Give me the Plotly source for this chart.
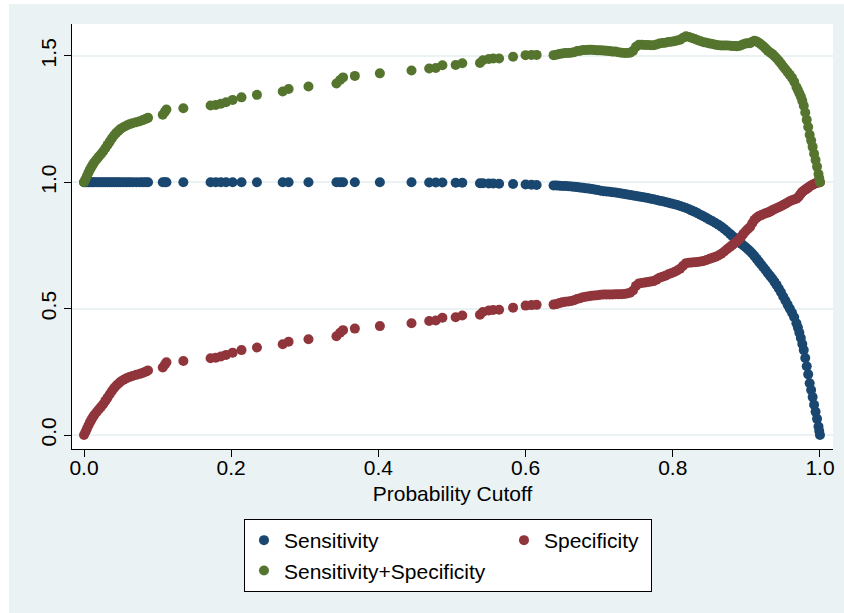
import plotly.graph_objects as go

cutoff = [
    0.000, 0.002, 0.004, 0.006, 0.008, 0.010, 0.012, 0.014, 0.017, 0.020,
    0.023, 0.026, 0.029, 0.032, 0.035, 0.038, 0.041, 0.044, 0.047, 0.050,
    0.054, 0.058, 0.062, 0.066, 0.071, 0.076, 0.080, 0.084, 0.087, 0.107,
    0.110, 0.112, 0.135, 0.172, 0.179, 0.186, 0.193, 0.202, 0.214, 0.235,
    0.270, 0.278, 0.305, 0.343, 0.348, 0.352, 0.368, 0.402, 0.445, 0.469,
    0.478, 0.487, 0.505, 0.514, 0.538, 0.542, 0.550, 0.556, 0.564, 0.583,
    0.600, 0.608, 0.615, 0.638,
    0.642, 0.646, 0.650, 0.654, 0.658, 0.662, 0.666, 0.670, 0.674, 0.678,
    0.682, 0.686, 0.690, 0.694, 0.698, 0.702, 0.706, 0.710, 0.714, 0.718,
    0.722, 0.726, 0.730, 0.734, 0.738, 0.742, 0.746, 0.750, 0.754, 0.758,
    0.762, 0.766, 0.770, 0.774, 0.778, 0.782, 0.786, 0.790, 0.794, 0.798,
    0.802, 0.806, 0.810, 0.814, 0.818, 0.822, 0.826, 0.830, 0.834, 0.838,
    0.842, 0.846, 0.850, 0.854, 0.858, 0.862, 0.866, 0.870, 0.874, 0.878,
    0.881, 0.884, 0.887, 0.890, 0.893, 0.896, 0.899, 0.902, 0.905, 0.908,
    0.911, 0.914, 0.917, 0.920, 0.923, 0.926, 0.929, 0.932, 0.935, 0.938,
    0.941, 0.944, 0.947, 0.950, 0.953, 0.956, 0.959, 0.962, 0.965, 0.968,
    0.970, 0.972, 0.974, 0.976, 0.978, 0.980, 0.982, 0.984, 0.986, 0.988,
    0.990, 0.992, 0.994, 0.996, 0.998, 0.999, 1.000,
]

sensitivity = [
    1.000, 1.000, 1.000, 1.000, 1.000, 1.000, 1.000, 1.000, 1.000, 1.000,
    1.000, 1.000, 1.000, 1.000, 1.000, 1.000, 1.000, 1.000, 1.000, 1.000,
    1.000, 1.000, 1.000, 1.000, 1.000, 1.000, 1.000, 1.000, 1.000, 1.000,
    1.000, 1.000, 1.000, 1.000, 1.000, 1.000, 1.000, 1.000, 1.000, 1.000,
    1.000, 1.000, 1.000, 1.000, 1.000, 1.000, 1.000, 1.000, 1.000, 0.999,
    0.999, 0.999, 0.998, 0.998, 0.996, 0.996, 0.995, 0.995, 0.994, 0.993,
    0.991, 0.990, 0.989, 0.987,
    0.987, 0.986, 0.985, 0.985, 0.984, 0.983, 0.982, 0.981, 0.979, 0.978,
    0.976, 0.975, 0.973, 0.971, 0.969, 0.967, 0.965, 0.964, 0.963, 0.961,
    0.960, 0.958, 0.956, 0.954, 0.952, 0.950, 0.948, 0.946, 0.944, 0.942,
    0.940, 0.938, 0.935, 0.933, 0.930, 0.927, 0.925, 0.922, 0.919, 0.916,
    0.913, 0.910, 0.906, 0.902, 0.898, 0.893, 0.888, 0.883, 0.877, 0.871,
    0.865, 0.859, 0.852, 0.846, 0.839, 0.832, 0.824, 0.815, 0.805, 0.795,
    0.787, 0.780, 0.772, 0.765, 0.757, 0.750, 0.743, 0.735, 0.727, 0.718,
    0.708, 0.697, 0.686, 0.675, 0.664, 0.653, 0.641, 0.630, 0.619, 0.607,
    0.594, 0.580, 0.565, 0.548, 0.532, 0.516, 0.500, 0.484, 0.466, 0.442,
    0.425, 0.405, 0.384, 0.360, 0.336, 0.305, 0.272, 0.240, 0.205, 0.178,
    0.150, 0.120, 0.092, 0.064, 0.034, 0.016, 0.000,
]

specificity = [
    0.000, 0.012, 0.025, 0.038, 0.050, 0.060, 0.070, 0.079, 0.090, 0.101,
    0.111, 0.122, 0.135, 0.148, 0.161, 0.174, 0.186, 0.196, 0.204, 0.212,
    0.219, 0.225, 0.230, 0.234, 0.238, 0.242, 0.246, 0.251, 0.255, 0.267,
    0.279, 0.288, 0.293, 0.304, 0.306, 0.311, 0.317, 0.326, 0.336, 0.346,
    0.359, 0.369, 0.379, 0.391, 0.405, 0.415, 0.421, 0.431, 0.442, 0.451,
    0.453, 0.464, 0.466, 0.473, 0.476, 0.487, 0.493, 0.495, 0.496, 0.504,
    0.512, 0.514, 0.515, 0.516,
    0.518, 0.522, 0.525, 0.527, 0.528, 0.530, 0.533, 0.538, 0.541, 0.545,
    0.547, 0.549, 0.551, 0.552, 0.553, 0.555, 0.556, 0.556, 0.556, 0.556,
    0.557, 0.557, 0.557, 0.558, 0.560, 0.563, 0.572, 0.590, 0.600, 0.602,
    0.603, 0.605, 0.607, 0.609, 0.615, 0.622, 0.626, 0.630, 0.636, 0.640,
    0.645, 0.651, 0.658, 0.670, 0.680, 0.682, 0.683, 0.684, 0.685, 0.687,
    0.689, 0.693, 0.697, 0.701, 0.705, 0.710, 0.717, 0.726, 0.736, 0.745,
    0.752, 0.759, 0.766, 0.774, 0.785, 0.796, 0.806, 0.815, 0.823, 0.838,
    0.852, 0.860, 0.866, 0.870, 0.874, 0.877, 0.880, 0.884, 0.889, 0.893,
    0.897, 0.901, 0.905, 0.910, 0.915, 0.920, 0.925, 0.929, 0.932, 0.935,
    0.940, 0.947, 0.955, 0.962, 0.967, 0.971, 0.975, 0.979, 0.983, 0.987,
    0.990, 0.993, 0.996, 0.998, 0.999, 1.000, 1.000,
]

sens_plus_spec = [s + p for s, p in zip(sensitivity, specificity)]

x_ticks = [0.0, 0.2, 0.4, 0.6, 0.8, 1.0]
y_ticks = [0.0, 0.5, 1.0, 1.5]

NAVY = "#1A476F"
MAROON = "#90353B"
GREEN = "#55752F"
BG = "#EAF2F3"
FONT = "Liberation Sans, Arial, sans-serif"

fig = go.Figure()
fig.add_trace(go.Scatter(x=cutoff, y=sensitivity, mode="markers", name="Sensitivity",
                         legendgroup="col1",
                         marker=dict(color=NAVY, size=10, line=dict(width=0)),
                         legendwidth=215))
fig.add_trace(go.Scatter(x=cutoff, y=specificity, mode="markers", name="Specificity",
                         legendgroup="col2",
                         marker=dict(color=MAROON, size=10, line=dict(width=0)),
                         legendwidth=102))
fig.add_trace(go.Scatter(x=cutoff, y=sens_plus_spec, mode="markers",
                         name="Sensitivity+Specificity",
                         legendgroup="col1",
                         marker=dict(color=GREEN, size=10, line=dict(width=0)),
                         legendwidth=215))

fig.update_layout(
    width=844, height=613,
    margin=dict(l=72, r=11, t=24, b=164, autoexpand=False),
    paper_bgcolor=BG,
    plot_bgcolor="white",
    font=dict(family=FONT, size=21, color="black"),
    showlegend=True,
    legend=dict(
        orientation="h",
        x=0.2260, xanchor="left",
        y=-0.1647, yanchor="top",
        bgcolor="white", bordercolor="black", borderwidth=1,
        font=dict(family=FONT, size=21, color="black"),
        traceorder="grouped",
        tracegroupgap=0,
        groupclick="toggleitem",
    ),
    xaxis=dict(
        range=[-0.0163, 1.0177],
        tickmode="array", tickvals=x_ticks, tickformat=".1f",
        ticks="outside", ticklen=7, tickwidth=1, tickcolor="black",
        ticklabelstandoff=-7,
        showline=True, linecolor="black", linewidth=1,
        showgrid=False, zeroline=False,
        title=dict(text="Probability Cutoff", font=dict(size=21), standoff=8),
        tickfont=dict(size=21),
    ),
    yaxis=dict(
        range=[-0.0553, 1.6263],
        tickmode="array", tickvals=y_ticks, tickformat=".1f",
        ticks="outside", ticklen=7, tickwidth=1, tickcolor="black",
        tickangle=-90,
        showline=True, linecolor="black", linewidth=1,
        showgrid=True, gridcolor=BG, gridwidth=1.5,
        zeroline=False,
        tickfont=dict(size=21),
    ),
    shapes=[
        dict(type="rect", xref="paper", yref="paper", x0=-0.0946, x1=-0.0828,
             y0=-0.4, y1=1.06, fillcolor="white", line=dict(width=0), layer="above"),
        dict(type="rect", xref="paper", yref="paper", x0=-0.0946, x1=1.02,
             y0=1.047, y1=1.06, fillcolor="white", line=dict(width=0), layer="above"),
    ],
)

fig.write_html("out.html")
